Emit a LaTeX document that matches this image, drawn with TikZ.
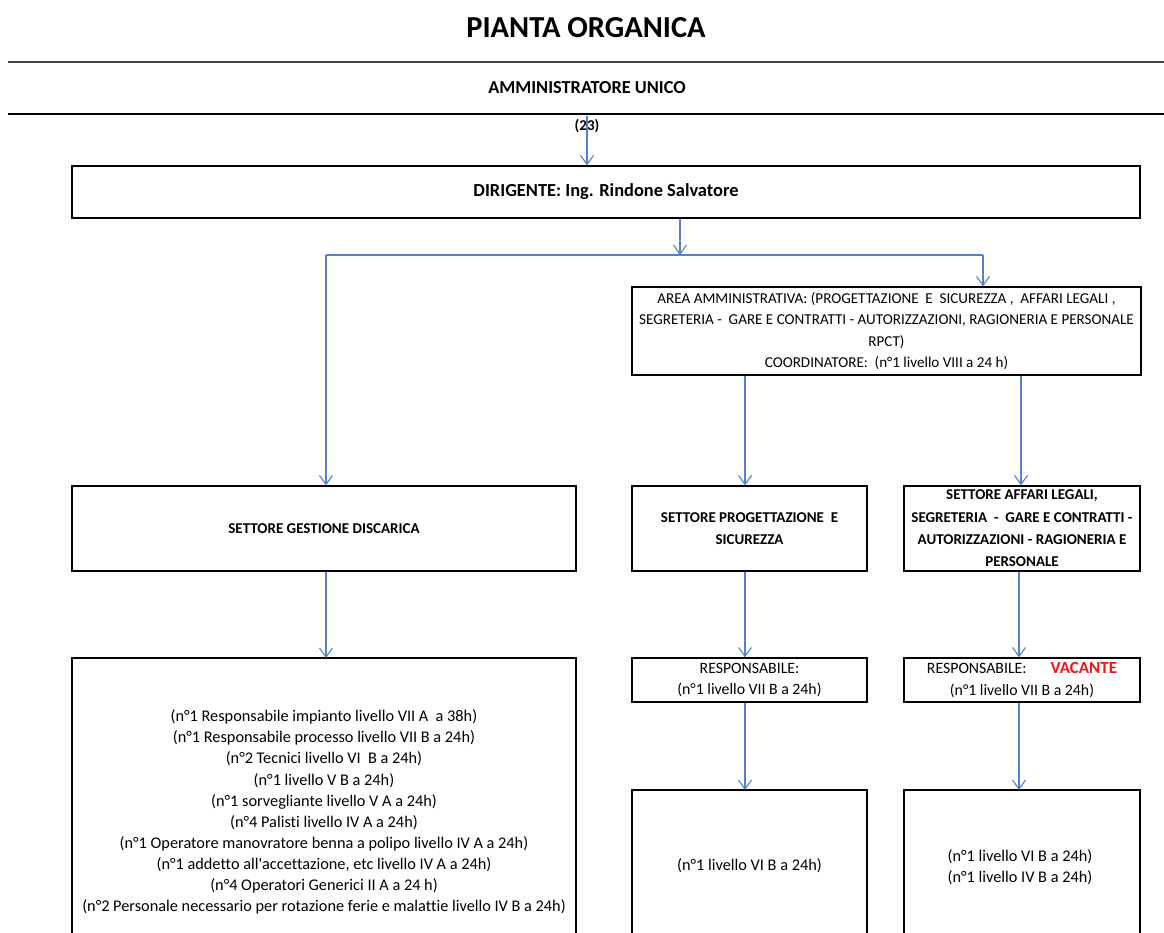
\documentclass[tikz,border=0pt]{standalone}
\usepackage{fontspec}
\setmainfont{Carlito}[Ligatures={TeXOff,CommonOff}]
\usetikzlibrary{arrows.meta}
\definecolor{arr}{RGB}{84,128,206}
\definecolor{rule}{RGB}{70,70,70}
\definecolor{vac}{RGB}{240,20,20}
\begin{document}
\begin{tikzpicture}[x=1pt,y=-1pt,
  box/.style={draw=black,line width=1.3pt,inner sep=2pt,align=center,font=\fontsize{16.3}{21}\selectfont},
  bbox/.style={box,font=\fontsize{15}{21.5}\selectfont\bfseries},
  conn/.style={draw=arr,line width=1.2pt,-{Straight Barb[length=9pt,width=13pt,line width=1.1pt]}},
  line/.style={draw=arr,line width=1.2pt}]
\useasboundingbox (0,0) rectangle (1164,933);
\clip (0,0) rectangle (1164,933);
% title and rules
\node[font=\fontsize{30.5}{34}\selectfont\bfseries] (title) at (586,28) {PIANTA ORGANICA};
\draw[rule,line width=1.6pt] (8,62) -- (1164,62);
\node[font=\fontsize{18.3}{21}\selectfont\bfseries] (au) at (587,88) {AMMINISTRATORE UNICO};
\draw[black,line width=1.8pt] (8,114) -- (1164,114);
\node[font=\fontsize{15}{18}\selectfont\bfseries] (n23) at (587,126) {(23)};
\coordinate (austart) at (587,116);
% boxes
\node[bbox,font=\fontsize{18.4}{21}\selectfont\bfseries,minimum width=1068pt,minimum height=52pt] (dir) at (606,192) {DIRIGENTE: Ing. Rindone Salvatore};
\node[box,font=\fontsize{15.1}{21.5}\selectfont,minimum width=509pt,minimum height=88pt] (area) at (886.5,331)
 {AREA AMMINISTRATIVA: (PROGETTAZIONE\ \ E\ \ SICUREZZA ,\ \ AFFARI LEGALI ,\\
  SEGRETERIA -\ \ GARE E CONTRATTI - AUTORIZZAZIONI, RAGIONERIA E PERSONALE\\
  RPCT)\\
  COORDINATORE:\ \ (n°1 livello VIII a 24 h)};
\node[bbox,minimum width=504pt,minimum height=85pt] (ges) at (324,528.5) {SETTORE GESTIONE DISCARICA};
\node[bbox,minimum width=235pt,minimum height=85pt] (prog) at (749.5,528.5) {SETTORE PROGETTAZIONE\ \ E\\ SICUREZZA};
\node[bbox,minimum width=236pt,minimum height=85pt,font=\fontsize{15}{22.3}\selectfont\bfseries] (aff) at (1022,528.5)
 {SETTORE AFFARI LEGALI,\\ SEGRETERIA\ \ -\ \ GARE E CONTRATTI -\\ AUTORIZZAZIONI - RAGIONERIA E\\ PERSONALE};
\node[box,font=\fontsize{15.8}{21.5}\selectfont,minimum width=235pt,minimum height=44pt] (resp1) at (749.5,680) {RESPONSABILE:\\ (n°1 livello VII B a 24h)};
\node[box,font=\fontsize{15.8}{21.5}\selectfont,minimum width=236pt,minimum height=44pt] (resp2) at (1022,680)
 {RESPONSABILE:\hspace{24pt}{\color{vac}\fontsize{17}{18}\selectfont\bfseries VACANTE}\\ (n°1 livello VII B a 24h)};
% boxes running off the bottom
\draw[black,line width=1.3pt] (72,1000) -- (72,658) -- (576,658) -- (576,1000);
\draw[black,line width=1.3pt] (632,1000) -- (632,790) -- (867,790) -- (867,1000);
\draw[black,line width=1.3pt] (904,1000) -- (904,790) -- (1140,790) -- (1140,1000);
\coordinate (staff) at (324,658);
\coordinate (bot1) at (745,790);
\coordinate (bot2) at (1019,790);
\node[align=center,font=\fontsize{16.3}{21.1}\selectfont] (stafftxt) at (324,812)
 {(n°1 Responsabile impianto livello VII A\ \ a 38h)\\
  (n°1 Responsabile processo livello VII B a 24h)\\
  (n°2 Tecnici livello VI\ \ B a 24h)\\
  (n°1 livello V B a 24h)\\
  (n°1 sorvegliante livello V A a 24h)\\
  (n°4 Palisti livello IV A a 24h)\\
  (n°1 Operatore manovratore benna a polipo livello IV A a 24h)\\
  (n°1 addetto all'accettazione, etc livello IV A a 24h)\\
  (n°4 Operatori Generici II A a 24 h)\\
  (n°2 Personale necessario per rotazione ferie e malattie livello IV B a 24h)};
\node[font=\fontsize{16.3}{21}\selectfont] (b1txt) at (749.5,866) {(n°1 livello VI B a 24h)};
\node[align=center,font=\fontsize{16.3}{21}\selectfont] (b2txt) at (1020,867) {(n°1 livello VI B a 24h)\\ (n°1 livello IV B a 24h)};
% connectors
\draw[conn] (austart) -- (austart |- dir.north);
\coordinate (split) at (680,255);
\coordinate (splitL) at (326,255);
\coordinate (splitR) at (983,255);
\draw[conn] (dir.south -| split) -- (split);
\draw[line] (splitL) -- (splitR);
\draw[conn] (splitL) -- (splitL |- ges.north);
\draw[conn] (splitR) -- (splitR |- area.north);
\draw[conn] (area.south -| bot1) -- (bot1 |- prog.north);
\draw[conn] (area.south -| 1021,0) -- (1021,0 |- aff.north);
\draw[conn] (ges.south -| splitL) -- (splitL |- staff);
\draw[conn] (prog.south -| bot1) -- (bot1 |- resp1.north);
\draw[conn] (aff.south -| bot2) -- (bot2 |- resp2.north);
\draw[conn] (resp1.south -| bot1) -- (bot1);
\draw[conn] (resp2.south -| bot2) -- (bot2);
\end{tikzpicture}
\end{document}
